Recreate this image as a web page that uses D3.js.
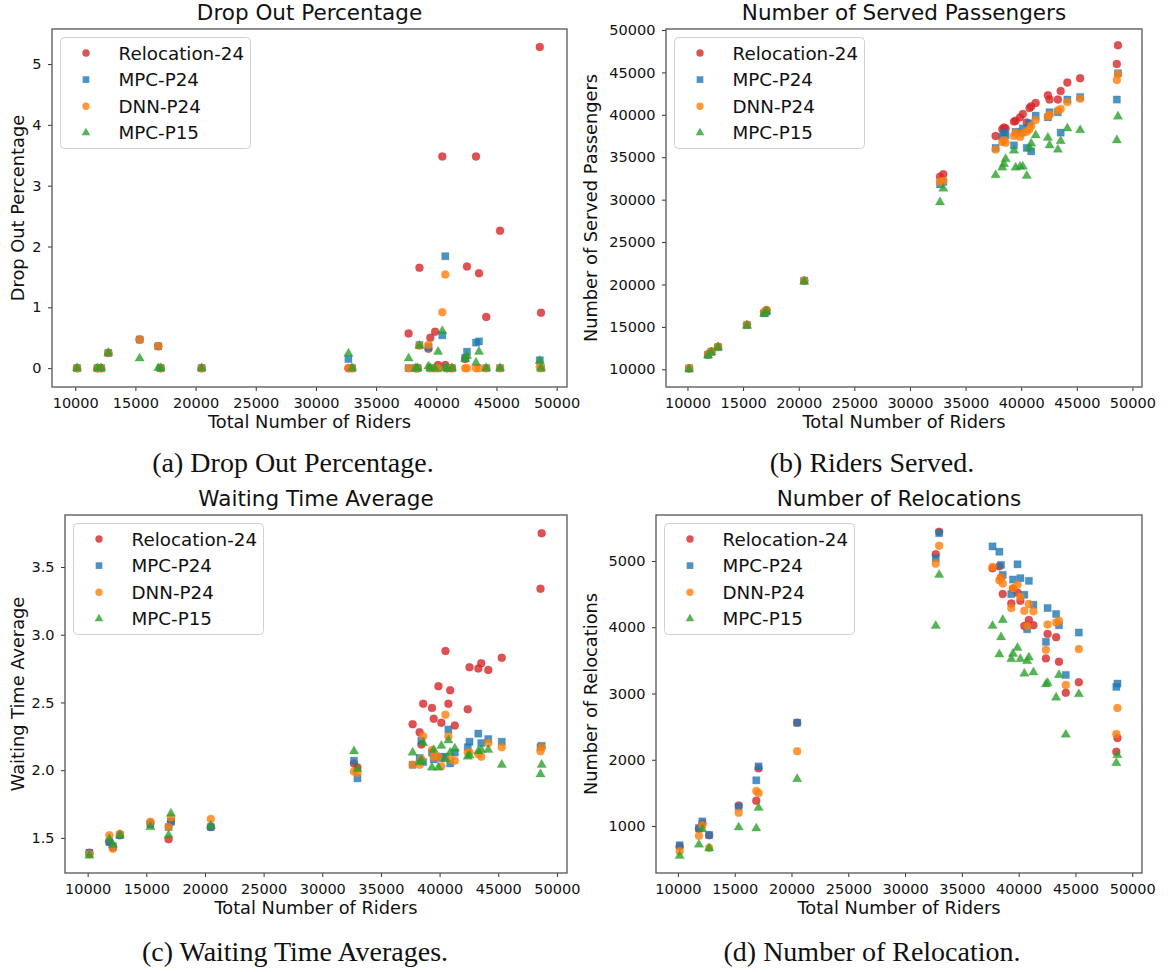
<!DOCTYPE html>
<html lang="en">
<head>
  <meta charset="UTF-8">
  <title>Relocation Scatter</title>
  <style>
    body { margin: 0; background: #fff; }
    svg { display: block; font-family: "DejaVu Sans", sans-serif; }
    .caption { font-family: "Liberation Serif", "Times New Roman", serif; }
  </style>
</head>
<body>
  <div id="chart"></div>

  <script src="https://d3js.org/d3.v7.min.js"></script>
  <script>

    // total number of riders for each scenario (shared x values)
    const riders = [10150, 11850, 12150, 12750, 15350, 16900, 17100, 20500, 32700, 33000,
                    37700, 38300, 38450, 38600, 39350, 39500, 39900, 40150, 40500, 40750,
                    40900, 41300, 42400, 42550, 43300, 43550, 44150, 45300, 48600, 48700];

    const seriesNames = ["Relocation-24", "MPC-P24", "DNN-P24", "MPC-P15"];

    // (a) drop out percentage
    const dropReloc = [0, 0, 0, 0.25, 0.47, 0.36, 0, 0, 0, 0, 0.57, 0, 0, 1.65, 0.32, 0.50, 0.60, 0.05, 3.48, 0.05,
                       0, 0, 0.15, 1.67, 3.48, 1.56, 0.84, 2.26, 5.28, 0.91];
    const dropMpc24 = [0, 0, 0, 0.25, 0.47, 0.36, 0, 0, 0.15, 0, 0, 0, 0, 0.38, 0.35, 0, 0, 0, 0.54, 1.84,
                       0, 0, 0.17, 0.27, 0.42, 0.44, 0, 0, 0.13, 0];
    const dropDnn24 = [0, 0, 0, 0.25, 0.47, 0.36, 0, 0, 0, 0, 0, 0, 0, 0.37, 0.38, 0, 0, 0, 0.92, 1.54,
                       0, 0, 0, 0, 0, 0, 0, 0, 0.02, 0];
    const dropMpc15 = [0, 0, 0, 0.25, 0.16, 0, 0, 0, 0.24, 0, 0.16, 0, 0, 0.37, 0.03, 0, 0, 0.27, 0.61, 0,
                       0, 0, 0.15, 0.2, 0.09, 0.27, 0, 0, 0.12, 0];

    // (b) number of served passengers
    const servedReloc = [10100, 11750, 12100, 12650, 15250, 16700, 16950, 20450, 32700, 33000,
                         37500, 38300, 38500, 38400, 39200, 39300, 39700, 40100, 39100, 40800,
                         41000, 41400, 42300, 41800, 41800, 42800, 43800, 44300, 46000, 48200];
    const servedMpc24 = [10100, 11700, 12050, 12600, 15200, 16600, 16800, 20450, 31800, 32100,
                         36100, 37400, 37900, 37600, 36400, 38000, 37900, 38400, 36100, 39000,
                         35700, 39900, 39700, 40300, 40300, 37900, 41800, 42100, 41800, 44900];
    const servedDnn24 = [10150, 11800, 12100, 12650, 15250, 16750, 17000, 20450, 32100, 32200,
                         35900, 36800, 37000, 36700, 37500, 37900, 37400, 37900, 38000, 38300,
                         38700, 39400, 39800, 40000, 40500, 40700, 41500, 41900, 44100, 44800];
    const servedMpc15 = [10000, 11650, 12000, 12600, 15150, 16550, 16850, 20350, 29700, 31300,
                         32900, 33800, 34200, 34800, 35800, 33800, 33900, 33900, 32800, 36100,
                         36600, 37600, 37300, 36400, 35900, 36900, 38400, 38200, 37000, 39800];

    // (c) waiting time average
    const waitReloc = [1.39, 1.47, 1.43, 1.52, 1.61, 1.49, 1.62, 1.58, 2.05, 2.02,
                       2.34, 2.28, 2.19, 2.49, 2.46, 2.38, 2.62, 2.35, 2.88, 2.49,
                       2.59, 2.33, 2.45, 2.76, 2.75, 2.79, 2.74, 2.83, 3.34, 3.75];
    const waitMpc24 = [1.39, 1.47, 1.44, 1.52, 1.60, 1.58, 1.62, 1.58, 2.07, 1.94,
                       2.04, 2.09, 2.22, 2.06, 2.13, 2.08, 2.10, 2.09, 2.10, 2.30,
                       2.05, 2.13, 2.17, 2.21, 2.27, 2.20, 2.23, 2.21, 2.17, 2.18];
    const waitDnn24 = [1.38, 1.52, 1.42, 1.53, 1.62, 1.58, 1.65, 1.64, 1.99, 1.98,
                       2.04, 2.04, 2.08, 2.25, 2.15, 2.10, 2.10, 2.03, 2.41, 2.25,
                       2.08, 2.07, 2.13, 2.13, 2.12, 2.10, 2.20, 2.17, 2.14, 2.17];
    const waitMpc15 = [1.37, 1.49, 1.45, 1.52, 1.58, 1.52, 1.68, 1.59, 2.14, 2.01,
                       2.13, 2.06, 2.07, 2.20, 2.02, 2.15, 2.02, 2.18, 2.08, 2.22,
                       2.13, 2.16, 2.10, 2.11, 2.14, 2.15, 2.15, 2.04, 1.97, 2.04];

    // (d) number of relocations
    const relocReloc = [690, 960, 1040, 860, 1310, 1380, 1870, 2560, 5100, 5440,
                        4890, 4920, 4750, 4500, 4360, 4580, 4520, 4400, 4020, 4030,
                        4110, 4030, 3530, 3900, 3850, 3480, 3010, 3170, 2120, 2330];
    const relocMpc24 = [710, 970, 1070, 865, 1290, 1690, 1900, 2560, 5040, 5420,
                        5220, 5140, 4940, 4790, 4500, 4720, 4950, 4740, 4490, 3970,
                        4700, 4340, 3780, 4290, 4200, 4030, 3280, 3920, 3100, 3150];
    const relocDnn24 = [620, 855, 1010, 670, 1200, 1530, 1500, 2130, 4960, 5230,
                        4910, 4710, 4750, 4660, 4290, 4590, 4640, 4460, 4250, 4020,
                        4350, 4240, 3660, 4040, 4070, 4100, 3130, 3670, 2390, 2780];
    const relocMpc15 = [550, 720, 950, 665, 980, 965, 1275, 1710, 4020, 4790,
                        4020, 3590, 3850, 4110, 3520, 3600, 3690, 3520, 3300, 3490,
                        3545, 3320, 3140, 3160, 2940, 3280, 2380, 2990, 1950, 2070];

    // tick labels
    const xTicks = [10000, 15000, 20000, 25000, 30000, 35000, 40000, 45000, 50000];
    const dropTicks = [0, 1, 2, 3, 4, 5];
    const servedTicks = [10000, 15000, 20000, 25000, 30000, 35000, 40000, 45000, 50000];
    const waitTicks = [1.5, 2.0, 2.5, 3.0, 3.5];
    const relocTicks = [1000, 2000, 3000, 4000, 5000];

    const width = 1168, height = 972;
    const colors = ["#d62728", "#1f77b4", "#ff7f0e", "#2ca02c"];
    const symbols = [d3.symbolCircle, d3.symbolSquare, d3.symbolCircle, d3.symbolTriangle];
    const sizes = [50, 52, 50, 38];

    const panels = [
      {title: "Drop Out Percentage", ylabel: "Drop Out Percentage", caption: "(a) Drop Out Percentage.",
       series: [dropReloc, dropMpc24, dropDnn24, dropMpc15], ticks: dropTicks, fmt: d3.format("d"),
       box: {left: 52, right: 567, top: 29, bottom: 387}, ydom: [-0.31, 5.576],
       ylabelX: 24, capX: 293, capY: 472},
      {title: "Number of Served Passengers", ylabel: "Number of Served Passengers", caption: "(b) Riders Served.",
       series: [servedReloc, servedMpc24, servedDnn24, servedMpc15], ticks: servedTicks, fmt: d3.format("d"),
       box: {left: 666, right: 1142, top: 29, bottom: 387}, ydom: [7915, 50118],
       ylabelX: 597, capX: 872, capY: 472},
      {title: "Waiting Time Average", ylabel: "Waiting Time Average", caption: "(c) Waiting Time Averages.",
       series: [waitReloc, waitMpc24, waitDnn24, waitMpc15], ticks: waitTicks, fmt: d3.format(".1f"),
       box: {left: 65, right: 567, top: 515, bottom: 873}, ydom: [1.241, 3.884],
       ylabelX: 24, capX: 295, capY: 961},
      {title: "Number of Relocations", ylabel: "Number of Relocations", caption: "(d) Number of Relocation.",
       series: [relocReloc, relocMpc24, relocDnn24, relocMpc15], ticks: relocTicks, fmt: d3.format("d"),
       box: {left: 656, right: 1142, top: 515, bottom: 873}, ydom: [291, 5694],
       ylabelX: 597, capX: 872, capY: 961}
    ];

    const svg = d3.select("#chart")
      .append("svg")
      .attr("width", width)
      .attr("height", height)
      .attr("viewBox", [0, 0, width, height]);

    svg.append("rect").attr("width", width).attr("height", height).attr("fill", "#fff");

    panels.forEach(p => {
      const b = p.box;
      const g = svg.append("g");

      const x = d3.scaleLinear([8070, 50860], [b.left, b.right]);
      const y = d3.scaleLinear(p.ydom, [b.bottom, b.top]);

      // points, drawn series by series
      p.series.forEach((vals, s) => {
        g.append("g")
          .selectAll("path")
          .data(vals.map((v, i) => [riders[i], v]))
          .join("path")
          .attr("transform", d => `translate(${x(d[0])},${y(d[1])})`)
          .attr("d", d3.symbol(symbols[s], sizes[s]))
          .attr("fill", colors[s])
          .attr("fill-opacity", 0.8)
          .attr("stroke", colors[s])
          .attr("stroke-opacity", 0.25)
          .attr("stroke-width", 1);
      });

      // axes
      const xAxis = g.append("g")
        .attr("transform", `translate(0,${b.bottom})`)
        .call(d3.axisBottom(x).tickValues(xTicks).tickSize(4).tickPadding(6.5).tickFormat(d3.format("d")));
      const yAxis = g.append("g")
        .attr("transform", `translate(${b.left},0)`)
        .call(d3.axisLeft(y).tickValues(p.ticks).tickSize(4).tickPadding(6.5).tickFormat(p.fmt));

      [xAxis, yAxis].forEach(a => {
        a.select(".domain").remove();
        a.selectAll("line").attr("stroke", "#333").attr("stroke-width", 1);
        a.selectAll("text").attr("font-size", 14.5).attr("fill", "#111")
          .attr("font-family", "DejaVu Sans");
      });

      g.append("rect")
        .attr("x", b.left).attr("y", b.top)
        .attr("width", b.right - b.left).attr("height", b.bottom - b.top)
        .attr("fill", "none").attr("stroke", "#555").attr("stroke-width", 1.3);

      // title and axis labels
      g.append("text")
        .attr("x", (b.left + b.right) / 2).attr("y", b.top - 9)
        .attr("text-anchor", "middle").attr("font-size", 21.5).attr("fill", "#111")
        .text(p.title);

      g.append("text")
        .attr("x", (b.left + b.right) / 2).attr("y", b.bottom + 41)
        .attr("text-anchor", "middle").attr("font-size", 17.8).attr("fill", "#111")
        .text("Total Number of Riders");

      g.append("text")
        .attr("transform", `translate(${p.ylabelX},${(b.top + b.bottom) / 2}) rotate(-90)`)
        .attr("text-anchor", "middle").attr("font-size", 17.8).attr("fill", "#111")
        .text(p.ylabel);

      // legend
      const lx = b.left + 8.5, ly = b.top + 8.5;
      g.append("rect")
        .attr("x", lx).attr("y", ly).attr("width", 190).attr("height", 111)
        .attr("rx", 4).attr("fill", "#fff").attr("fill-opacity", 0.8)
        .attr("stroke", "#d0d0d0").attr("stroke-width", 1);

      let legendGroup = g.selectAll(".legend-group")
        .data(seriesNames)
        .join("g")
        .attr("class", "legend-group")
        .attr("transform", (d, i) => `translate(${lx},${ly + 15.5 + i * 26.6})`);

      legendGroup.append("path")
        .attr("transform", "translate(25.5,0)")
        .attr("d", (d, i) => d3.symbol(symbols[i], sizes[i] * 0.85)())
        .attr("fill", (d, i) => colors[i])
        .attr("fill-opacity", 0.8);

      legendGroup.append("text")
        .attr("x", 58)
        .attr("y", 6.6)
        .attr("font-size", 18.3)
        .attr("fill", "#111")
        .text(d => d);

      // caption below the panel
      svg.append("text")
        .attr("class", "caption")
        .attr("x", p.capX).attr("y", p.capY)
        .attr("text-anchor", "middle").attr("font-size", 28).attr("fill", "#111")
        .text(p.caption);
    });

  </script>
</body>
</html>
